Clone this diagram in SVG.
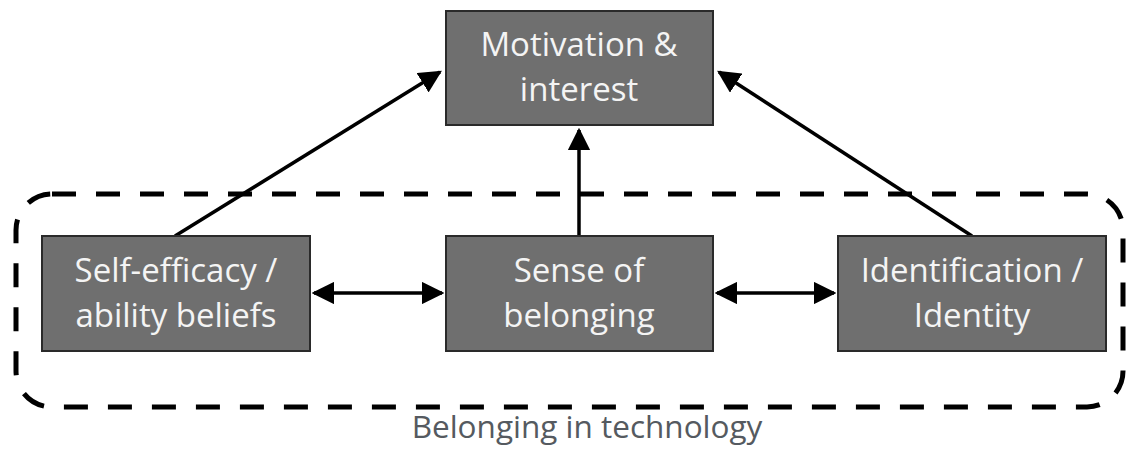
<svg xmlns="http://www.w3.org/2000/svg" width="1126" height="459" viewBox="0 0 1126 459">
<defs>
<style>
.box{fill:#6f6f6f;stroke:#2a2a2a;stroke-width:2}
.lbl{font-family:"Open Sans",sans-serif;font-size:33px;fill:#f4f4f4;text-anchor:middle}
.edge{stroke:#000;stroke-width:3.5;fill:none}
.cap{font-family:"Open Sans",sans-serif;font-size:31.5px;fill:#555a60;text-anchor:middle}
</style>
<marker id="ah" viewBox="0 0 10 10" refX="9" refY="5" markerWidth="6.5" markerHeight="6.5" orient="auto-start-reverse" markerUnits="strokeWidth">
<path d="M0,0 L10,5 L0,10 Z" fill="#000"/>
</marker>
</defs>
<rect width="1126" height="459" fill="#fff"/>
<g id="group-belonging">
<rect x="16" y="194" width="1107" height="213" rx="36" ry="36" fill="none" stroke="#000" stroke-width="5" stroke-dasharray="24 20"/>
<text class="cap" x="587" y="438">Belonging in technology</text>
</g>
<g id="connectors">
<line class="edge" x1="175" y1="236" x2="440" y2="72" marker-end="url(#ah)"/>
<line class="edge" x1="972" y1="236" x2="719" y2="72" marker-end="url(#ah)"/>
<line class="edge" x1="579" y1="236" x2="579" y2="130" marker-end="url(#ah)"/>
<line class="edge" x1="314" y1="293" x2="442" y2="293" marker-start="url(#ah)" marker-end="url(#ah)"/>
<line class="edge" x1="717" y1="293" x2="834" y2="293" marker-start="url(#ah)" marker-end="url(#ah)"/>
</g>
<g id="node-motivation">
<rect class="box" x="446" y="11" width="267" height="114"/>
<text class="lbl" x="579" y="56">Motivation &amp;</text>
<text class="lbl" x="579" y="101">interest</text>
</g>
<g id="node-selfefficacy">
<rect class="box" x="42" y="236" width="268" height="115"/>
<text class="lbl" x="176" y="282">Self-efficacy /</text>
<text class="lbl" x="176" y="327">ability beliefs</text>
</g>
<g id="node-sense">
<rect class="box" x="446" y="236" width="267" height="115"/>
<text class="lbl" x="579" y="282">Sense of</text>
<text class="lbl" x="579" y="327">belonging</text>
</g>
<g id="node-identification">
<rect class="box" x="838" y="236" width="268" height="115"/>
<text class="lbl" x="972" y="282">Identification /</text>
<text class="lbl" x="972" y="327">Identity</text>
</g>
</svg>
